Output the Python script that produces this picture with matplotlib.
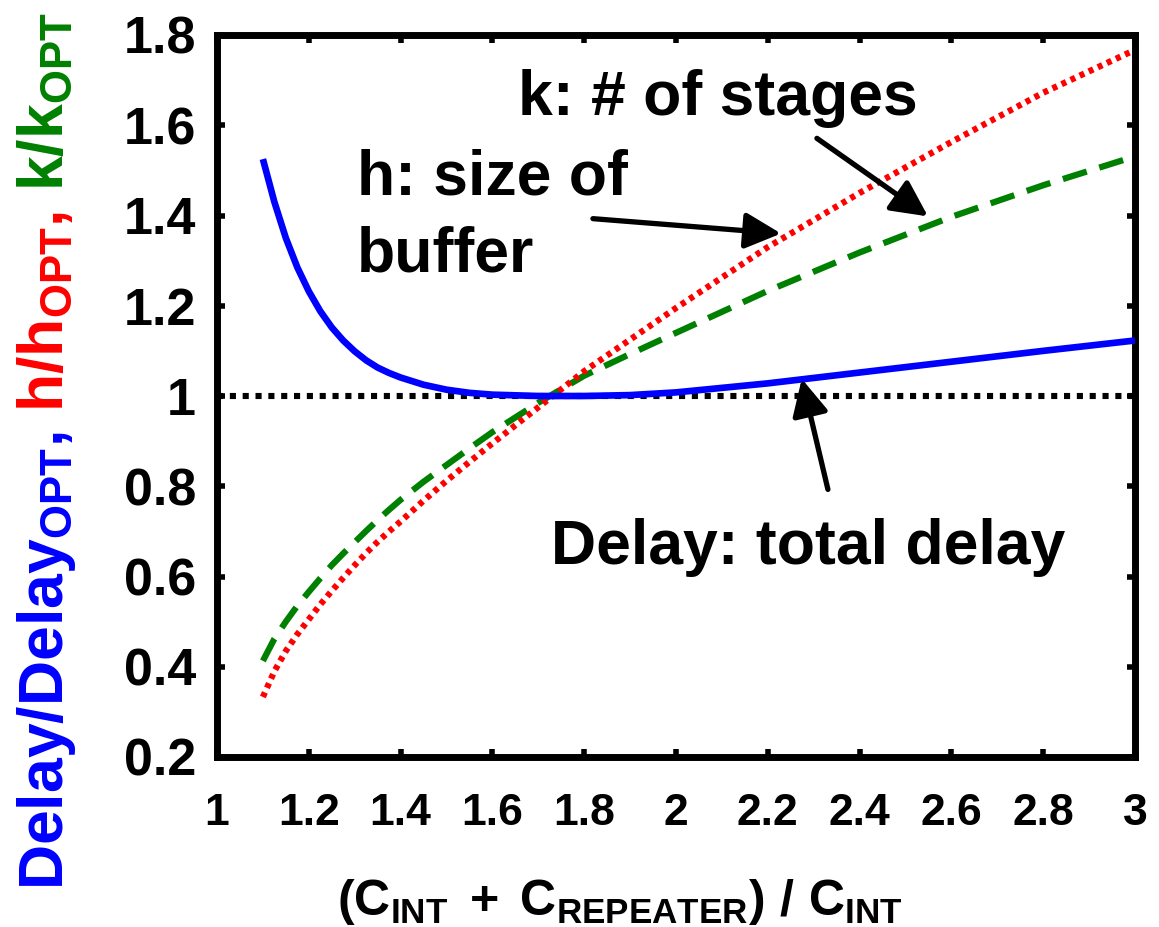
import numpy as np
import matplotlib
matplotlib.use('Agg')
import matplotlib.pyplot as plt

plt.rcParams['font.family'] = 'Liberation Sans'
plt.rcParams['font.weight'] = 'bold'
plt.rcParams['mathtext.fontset'] = 'custom'
plt.rcParams['mathtext.bf'] = 'Liberation Sans:bold'
plt.rcParams['mathtext.rm'] = 'Liberation Sans:bold'
plt.rcParams['mathtext.it'] = 'Liberation Sans:bold'

# values
ratio = [1.1, 1.125, 1.15, 1.175, 1.2, 1.225, 1.25, 1.275, 1.3, 1.325, 1.35, 1.375,
         1.4, 1.45, 1.5, 1.55, 1.6, 1.7, 1.8, 1.9, 2.0, 2.2, 2.4, 2.6, 2.8, 3.0]
delay = [1.525, 1.43, 1.35, 1.285, 1.232, 1.188, 1.152, 1.123, 1.099, 1.079, 1.063, 1.051,
         1.041, 1.025, 1.014, 1.007, 1.003, 1.0, 1.0, 1.002, 1.008, 1.028, 1.052, 1.076,
         1.1, 1.123]
h_size = [0.333, 0.39, 0.435, 0.472, 0.505, 0.538, 0.568, 0.597, 0.625, 0.652, 0.677, 0.700,
          0.722, 0.768, 0.812, 0.854, 0.895, 0.975, 1.055, 1.125, 1.195, 1.33, 1.45,
          1.563, 1.672, 1.767]
k_stages = [0.413, 0.462, 0.50, 0.535, 0.566, 0.596, 0.625, 0.651, 0.676, 0.701, 0.725, 0.748,
            0.77, 0.81, 0.847, 0.884, 0.92, 0.985, 1.045, 1.093, 1.14, 1.233, 1.318,
            1.397, 1.467, 1.531]

xticks = [1, 1.2, 1.4, 1.6, 1.8, 2, 2.2, 2.4, 2.6, 2.8, 3]
xticklabels = ['1', '1.2', '1.4', '1.6', '1.8', '2', '2.2', '2.4', '2.6', '2.8', '3']
yticks = [0.2, 0.4, 0.6, 0.8, 1.0, 1.2, 1.4, 1.6, 1.8]
yticklabels = ['0.2', '0.4', '0.6', '0.8', '1', '1.2', '1.4', '1.6', '1.8']

W, H = 1159, 927
fig = plt.figure(figsize=(W / 100, H / 100), dpi=100)
ax = fig.add_axes([217 / W, 1 - 757 / H, (1135 - 217) / W, (757 - 35) / H])

ax.axhline(1.0, color='black', lw=4.4, ls=(0, (1.0, 1.1)), zorder=1.5)
ax.plot(ratio, delay, color='#0000ff', lw=4.8, solid_capstyle='butt', zorder=3)
ax.plot(ratio, h_size, color='#ff0000', lw=4.5, ls=(0, (0.8, 0.8)), zorder=2.5)
ax.plot(ratio, k_stages, color='#008000', lw=4.5, ls=(0, (4.0, 2.1)), zorder=2)

ax.set_xlim(1, 3)
ax.set_ylim(0.2, 1.8)
ax.set_xticks(xticks)
ax.set_xticklabels(xticklabels)
ax.set_yticks(yticks)
ax.set_yticklabels(yticklabels)
ax.tick_params(axis='both', direction='in', length=6, width=4,
               top=True, right=True)
ax.tick_params(axis='x', labelsize=32, pad=26)
ax.tick_params(axis='y', labelsize=37.5, pad=15)
for sp in ax.spines.values():
    sp.set_linewidth(5)

txt = dict(fontsize=45, fontweight='bold', color='black')
ax.text(1.655, 1.622, 'k: # of stages', ha='left', va='baseline', **txt)
ax.text(1.305, 1.447, 'h: size of', ha='left', va='baseline', **txt)
ax.text(1.305, 1.276, 'buffer', ha='left', va='baseline', **txt)
ax.text(1.727, 0.627, 'Delay: total delay', ha='left', va='baseline', **txt)

arrow = dict(arrowstyle='-|>,head_length=1.1,head_width=0.55', color='black',
             lw=3.8, mutation_scale=20, shrinkA=0, shrinkB=0)
ax.annotate('', xy=(2.229, 1.36), xytext=(1.819, 1.393), arrowprops=arrow)
ax.annotate('', xy=(2.549, 1.398), xytext=(2.307, 1.571), arrowprops=arrow)
ax.annotate('', xy=(2.274, 1.038), xytext=(2.331, 0.793), arrowprops=arrow)

fig.text(620 / W, 1 - 915 / H,
         r'$\mathbf{(C_{INT}\;+\;C_{REPEATER})\ /\ C_{INT}}$',
         ha='center', va='baseline', fontsize=36)

# multi-coloured rotated y label, built piece by piece
ylabel_parts = [r'$\mathbf{Delay/Delay_{OPT},}$', r'$\mathbf{h/h_{OPT},}$',
                r'$\mathbf{k/k_{OPT}}$']
ylabel_colors = ['#0000ff', '#ff0000', '#008000']
fig.canvas.draw()
renderer = fig.canvas.get_renderer()
ypix = 890
for part, col in zip(ylabel_parts, ylabel_colors):
    t = fig.text(63 / W, 1 - ypix / H, part, color=col, fontsize=45,
                 rotation=90, rotation_mode='anchor', ha='left', va='baseline')
    bb = t.get_window_extent(renderer)
    ypix -= bb.height + 20

fig.savefig('out.png', dpi=100)
